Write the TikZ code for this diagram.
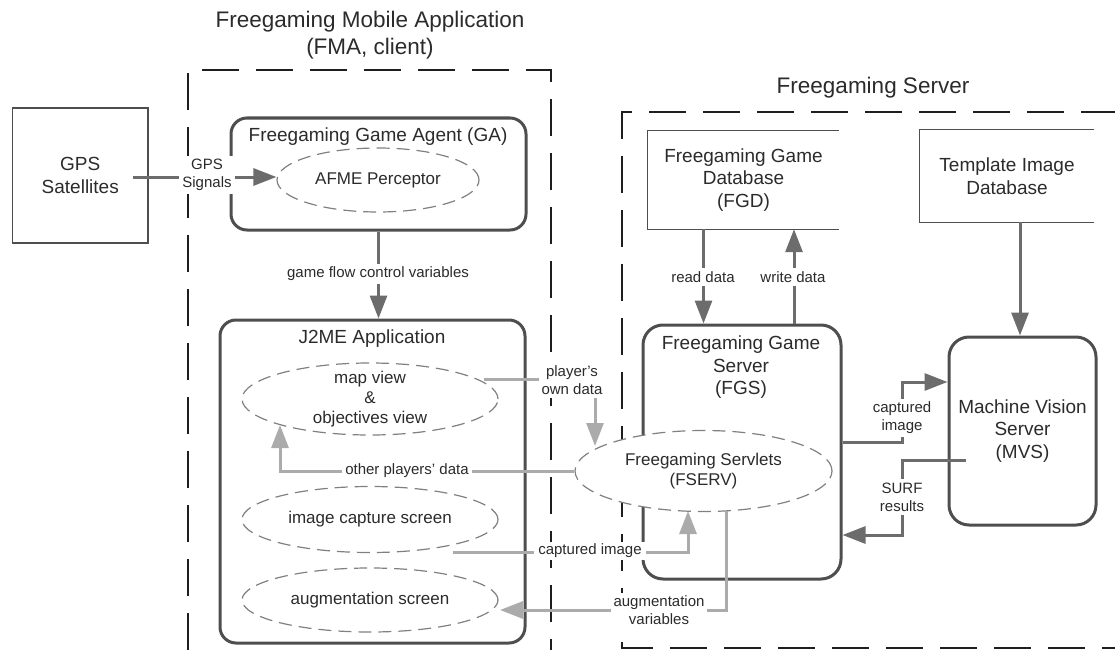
\documentclass[tikz,border=0pt]{standalone}
\usepackage{fontspec}
\setmainfont{Liberation Sans}
\usetikzlibrary{arrows.meta,shapes.geometric,calc}
\definecolor{boxc}{HTML}{4E4E4E}
\definecolor{txtc}{HTML}{2B2B2B}
\definecolor{darkarr}{HTML}{6C6C6C}
\definecolor{lightarr}{HTML}{ABABAB}
\definecolor{ellc}{HTML}{808080}
\definecolor{outc}{HTML}{1E1E1E}
\begin{document}
\begin{tikzpicture}[x=1pt,y=-1pt,
  font=\fontsize{19}{22.5}\selectfont, text=txtc,
  outer/.style={draw=outc, line width=2.5pt, dash pattern=on 37pt off 17pt},
  plainbox/.style={rectangle, draw=boxc, line width=1.3pt, align=center, inner sep=0pt},
  openbox/.style={rectangle, align=center, inner sep=0pt},
  roundbox/.style={rectangle, draw=boxc, line width=3pt, rounded corners=16pt, align=center, inner sep=0pt},
  ell/.style={ellipse, draw=ellc, line width=1.2pt, dash pattern=on 13pt off 7pt, fill=white,
    inner xsep=0pt, inner ysep=-8pt, align=center, font=\fontsize{17}{20}\selectfont},
  lbl/.style={fill=white, inner xsep=3pt, inner ysep=3.5pt, align=center, font=\fontsize{15}{18}\selectfont},
  titletext/.style={align=center, font=\fontsize{22.5}{27}\selectfont},
  boxtitle/.style={align=center, inner sep=0pt},
  darr/.style={draw=darkarr, line width=3pt, -{Triangle[length=23pt,width=17pt]}},
  larr/.style={draw=lightarr, line width=3pt, -{Triangle[length=23pt,width=17pt]}}
]
\useasboundingbox (0,0) rectangle (1115,666);

% titles
\node[titletext] (fmatitle) at (370,35.5) {Freegaming Mobile Application\\(FMA, client)};
\node[titletext] (srvtitle) at (873,88) {Freegaming Server};

% outer dashed regions
\draw[outer] (188,650) -- (188,70) -- (551,70) -- (551,650);
\draw[outer] (1118,112) -- (622,112) -- (622,648) -- (1118,648);

% GPS
\node[plainbox, minimum width=135.5pt, minimum height=135pt] (gps) at (80.25,175.5) {GPS\\Satellites};

% Game agent
\node[roundbox, minimum width=295pt, minimum height=112pt] (ga) at (378.5,174) {};
\node[boxtitle] (gatitle) at (378,137) {Freegaming Game Agent (GA)};
\node[ell, minimum width=202pt, minimum height=64pt] (afme) at (378,180) {AFME Perceptor};

% J2ME application
\node[roundbox, minimum width=305pt, minimum height=323pt] (j2me) at (372.5,481.5) {};
\node[boxtitle] (j2metitle) at (372,339) {J2ME Application};
\node[ell, minimum width=256pt, minimum height=72pt] (mapview) at (370,399) {map view\\\&\\objectives view};
\node[ell, minimum width=256pt, minimum height=66pt] (imgcap) at (370,519.5) {image capture screen};
\node[ell, minimum width=256pt, minimum height=64pt] (augscr) at (370,600) {augmentation screen};

% databases (open on the right)
\node[openbox, minimum width=191pt, minimum height=98pt] (fgd) at (743.5,180) {Freegaming Game\\Database\\(FGD)};
\draw[boxc, line width=1.3pt] (fgd.north east) -- (fgd.north west) -- (fgd.south west) -- (fgd.south east);
\node[openbox, minimum width=174pt, minimum height=92pt] (tid) at (1007,176) {Template Image\\Database};
\draw[boxc, line width=1.3pt] (tid.north east) -- (tid.north west) -- (tid.south west) -- (tid.south east);

% game server
\node[roundbox, minimum width=198pt, minimum height=254pt, rounded corners=20pt] (fgs) at (742,452) {};
\node[boxtitle] (fgstitle) at (741,367.5) {Freegaming Game\\Server\\(FGS)};
\node[ell, minimum width=257pt, minimum height=81pt] (fserv) at (703.5,471) {Freegaming Servlets\\(FSERV)};

% machine vision server
\node[roundbox, minimum width=147pt, minimum height=188pt, rounded corners=20pt] (mvs) at (1022.5,431) {Machine Vision\\Server\\(MVS)};

% free ends
\coordinate (gpsout) at (133,177);
\coordinate (surfout) at (966,460);
\coordinate (podout) at (484,379);
\coordinate (podin) at (595,446);
\coordinate (capout) at (453,552);
\coordinate (capin) at (688,511);
\coordinate (augout) at (726,511);
\coordinate (augin) at (500,610);

% dark connectors
\draw[darr] (gpsout) -- (gpsout -| afme.west);
\draw[darr] (ga.south) -- (ga.south |- j2me.north);
\draw[darr] ([xshift=-40pt]fgd.south) -- ([xshift=-40pt]fgd.south |- fgs.north);
\draw[darr] ([xshift=50.5pt]fgd.south |- fgs.north) -- ([xshift=50.5pt]fgd.south);
\draw[darr] ([xshift=13pt]tid.south) -- ([xshift=13pt]tid.south |- mvs.north);
\draw[darr] (fgs.east |- 0,442) -- (902,442) -- (902,382) -- (mvs.west |- 0,382);
\draw[darr] (surfout) -- (902,460) -- (902,535) -- (fgs.east |- 0,535);

% light connectors
\draw[larr] (podout) -| (podin);
\draw[larr] (fserv.west) -- (280,471) -- (280,425);
\draw[larr] (capout) -- (capin |- capout) -- (capin);
\draw[larr] (augout) -- (augout |- augin) -- (augin);

% labels
\node[lbl] (lgps) at (207,175) {GPS\\Signals};
\node[lbl] (lflow) at (378,274) {game flow control variables};
\node[lbl] (lread) at (703,277) {read data};
\node[lbl] (lwrite) at (793,277) {write data};
\node[lbl] (lcap2) at (902,418) {captured\\image};
\node[lbl] (lsurf) at (902,497) {SURF\\results};
\node[lbl] (lpod) at (572,380) {player's\\own data};
\node[lbl] (lother) at (407,471) {other players' data};
\node[lbl, inner xsep=4.5pt, inner ysep=2pt] (lcap) at (590,551) {captured image};
\node[lbl] (laug) at (659,610.5) {augmentation\\variables};
\end{tikzpicture}
\end{document}
